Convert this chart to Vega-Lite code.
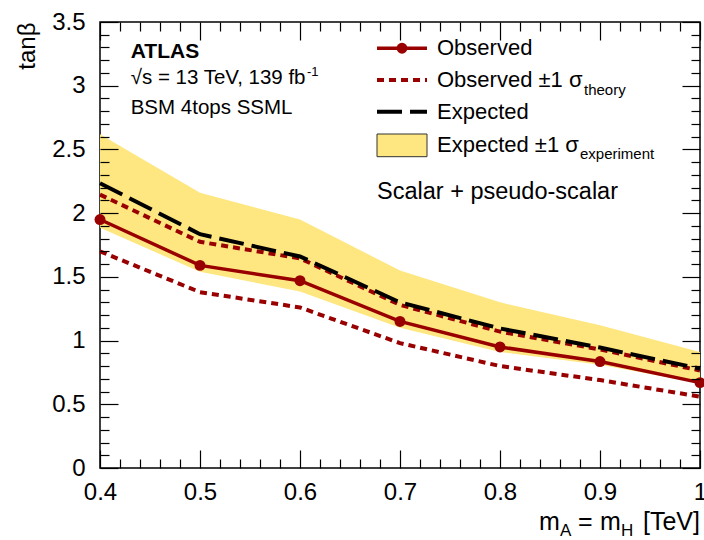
{
  "$schema": "https://vega.github.io/schema/vega-lite/v6.json",
  "width": 600,
  "height": 446,
  "autosize": {"type": "none"},
  "padding": {"left": 100, "top": 22, "right": 4, "bottom": 72},
  "background": "white",
  "config": {
    "view": {"stroke": "black", "strokeWidth": 1.5},
    "font": "Liberation Sans",
    "axis": {"grid": false, "domain": false, "labelFont": "Liberation Sans", "titleFont": "Liberation Sans", "labelColor": "black", "titleColor": "black", "tickColor": "black", "tickWidth": 1.2},
    "text": {"font": "Liberation Sans", "fontSize": 22, "align": "left", "baseline": "middle", "color": "black"}
  },
  "data": {"values": [
    {"m": 0.4, "obs": 1.95, "obs_up": 2.145, "obs_dn": 1.70, "exp": 2.235, "band_lo": 1.885, "band_hi": 2.62},
    {"m": 0.5, "obs": 1.59, "obs_up": 1.775, "obs_dn": 1.38, "exp": 1.835, "band_lo": 1.54, "band_hi": 2.16},
    {"m": 0.6, "obs": 1.47, "obs_up": 1.645, "obs_dn": 1.26, "exp": 1.66, "band_lo": 1.385, "band_hi": 1.95},
    {"m": 0.7, "obs": 1.15, "obs_up": 1.28, "obs_dn": 0.98, "exp": 1.30, "band_lo": 1.10, "band_hi": 1.55},
    {"m": 0.8, "obs": 0.95, "obs_up": 1.07, "obs_dn": 0.80, "exp": 1.095, "band_lo": 0.91, "band_hi": 1.30},
    {"m": 0.9, "obs": 0.835, "obs_up": 0.93, "obs_dn": 0.69, "exp": 0.945, "band_lo": 0.81, "band_hi": 1.12},
    {"m": 1.0, "obs": 0.67, "obs_up": 0.765, "obs_dn": 0.56, "exp": 0.78, "band_lo": 0.665, "band_hi": 0.91}
  ]},
  "resolve": {"axis": {"x": "independent", "y": "independent"}},
  "layer": [
    {
      "mark": {"type": "area", "color": "#FEE680", "opacity": 1},
      "encoding": {
        "x": {"field": "m", "type": "quantitative", "scale": {"domain": [0.4, 1.0], "nice": false, "zero": false},
              "axis": {"orient": "bottom", "values": [0.4, 0.5, 0.6, 0.7, 0.8, 0.9, 1.0], "format": "~g", "ticks": false, "labelFontSize": 24, "labelPadding": 12, "labelFlush": false, "title": null}},
        "y": {"field": "band_lo", "type": "quantitative", "scale": {"domain": [0, 3.5], "nice": false, "zero": false},
              "axis": {"orient": "left", "values": [0, 0.5, 1, 1.5, 2, 2.5, 3, 3.5], "format": "~g", "ticks": false, "labelFontSize": 24, "labelPadding": 15, "labelFlush": false, "title": "tanβ", "titleAnchor": "end", "titleFontSize": 24, "titleFontWeight": "normal", "titlePadding": 12}},
        "y2": {"field": "band_hi"}
      }
    },
    {
      "mark": {"type": "line", "color": "#990000", "strokeWidth": 4, "strokeDash": [7, 5]},
      "encoding": {
        "x": {"field": "m", "type": "quantitative", "scale": {"domain": [0.4, 1.0], "nice": false, "zero": false},
              "axis": {"orient": "bottom", "values": [0.4, 0.5, 0.6, 0.7, 0.8, 0.9, 1.0], "labels": false, "offset": -18, "tickSize": 18, "zindex": 1, "title": null}},
        "y": {"field": "obs_dn", "type": "quantitative", "scale": {"domain": [0, 3.5], "nice": false, "zero": false},
              "axis": {"orient": "left", "values": [0, 0.5, 1, 1.5, 2, 2.5, 3, 3.5], "labels": false, "offset": -18, "tickSize": 18, "zindex": 1, "title": null}}
      }
    },
    {
      "mark": {"type": "line", "color": "#990000", "strokeWidth": 4, "strokeDash": [7, 5]},
      "encoding": {
        "x": {"field": "m", "type": "quantitative", "scale": {"domain": [0.4, 1.0], "nice": false, "zero": false},
              "axis": {"orient": "bottom", "values": [0.42, 0.44, 0.46, 0.48, 0.52, 0.54, 0.56, 0.58, 0.62, 0.64, 0.66, 0.68, 0.72, 0.74, 0.76, 0.78, 0.82, 0.84, 0.86, 0.88, 0.92, 0.94, 0.96, 0.98], "labels": false, "offset": -9, "tickSize": 9, "zindex": 1, "title": null}},
        "y": {"field": "obs_up", "type": "quantitative", "scale": {"domain": [0, 3.5], "nice": false, "zero": false},
              "axis": {"orient": "left", "values": [0.1, 0.2, 0.3, 0.4, 0.6, 0.7, 0.8, 0.9, 1.1, 1.2, 1.3, 1.4, 1.6, 1.7, 1.8, 1.9, 2.1, 2.2, 2.3, 2.4, 2.6, 2.7, 2.8, 2.9, 3.1, 3.2, 3.3, 3.4], "labels": false, "offset": -9, "tickSize": 9, "zindex": 1, "title": null}}
      }
    },
    {
      "mark": {"type": "line", "color": "black", "strokeWidth": 4, "strokeDash": [25, 8]},
      "encoding": {
        "x": {"field": "m", "type": "quantitative", "scale": {"domain": [0.4, 1.0], "nice": false, "zero": false},
              "axis": {"orient": "top", "values": [0.4, 0.5, 0.6, 0.7, 0.8, 0.9, 1.0], "labels": false, "offset": -18, "tickSize": 18, "zindex": 1, "title": null}},
        "y": {"field": "exp", "type": "quantitative", "scale": {"domain": [0, 3.5], "nice": false, "zero": false},
              "axis": {"orient": "right", "values": [0, 0.5, 1, 1.5, 2, 2.5, 3, 3.5], "labels": false, "offset": -18, "tickSize": 18, "zindex": 1, "title": null}}
      }
    },
    {
      "mark": {"type": "line", "color": "#990000", "strokeWidth": 3.5},
      "encoding": {
        "x": {"field": "m", "type": "quantitative", "scale": {"domain": [0.4, 1.0], "nice": false, "zero": false},
              "axis": {"orient": "top", "values": [0.42, 0.44, 0.46, 0.48, 0.52, 0.54, 0.56, 0.58, 0.62, 0.64, 0.66, 0.68, 0.72, 0.74, 0.76, 0.78, 0.82, 0.84, 0.86, 0.88, 0.92, 0.94, 0.96, 0.98], "labels": false, "offset": -9, "tickSize": 9, "zindex": 1, "title": null}},
        "y": {"field": "obs", "type": "quantitative", "scale": {"domain": [0, 3.5], "nice": false, "zero": false},
              "axis": {"orient": "right", "values": [0.1, 0.2, 0.3, 0.4, 0.6, 0.7, 0.8, 0.9, 1.1, 1.2, 1.3, 1.4, 1.6, 1.7, 1.8, 1.9, 2.1, 2.2, 2.3, 2.4, 2.6, 2.7, 2.8, 2.9, 3.1, 3.2, 3.3, 3.4], "labels": false, "offset": -9, "tickSize": 9, "zindex": 1, "title": null}}
      }
    },
    {
      "mark": {"type": "point", "shape": "circle", "filled": true, "color": "#990000", "size": 120, "opacity": 1},
      "encoding": {
        "x": {"field": "m", "type": "quantitative", "axis": null},
        "y": {"field": "obs", "type": "quantitative", "axis": null}
      }
    },
    {
      "data": {"values": [{}]},
      "mark": {"type": "text", "text": "ATLAS", "fontWeight": "bold", "fontSize": 21},
      "encoding": {"x": {"datum": 0.4307, "type": "quantitative", "axis": null}, "y": {"datum": 3.267, "type": "quantitative", "axis": null}}
    },
    {
      "data": {"values": [{}]},
      "mark": {"type": "text", "text": "√s = 13 TeV, 139 fb", "fontSize": 20.5},
      "encoding": {"x": {"datum": 0.4307, "type": "quantitative", "axis": null}, "y": {"datum": 3.058, "type": "quantitative", "axis": null}}
    },
    {
      "data": {"values": [{}]},
      "mark": {"type": "text", "text": "-1", "fontSize": 13},
      "encoding": {"x": {"datum": 0.607, "type": "quantitative", "axis": null}, "y": {"datum": 3.11, "type": "quantitative", "axis": null}}
    },
    {
      "data": {"values": [{}]},
      "mark": {"type": "text", "text": "BSM 4tops SSML", "fontSize": 20.5},
      "encoding": {"x": {"datum": 0.4307, "type": "quantitative", "axis": null}, "y": {"datum": 2.827, "type": "quantitative", "axis": null}}
    },
    {
      "data": {"values": [{}]},
      "mark": {"type": "rule", "color": "#990000", "strokeWidth": 3.5},
      "encoding": {"x": {"datum": 0.677, "type": "quantitative", "axis": null}, "x2": {"datum": 0.727}, "y": {"datum": 3.294, "type": "quantitative", "axis": null}}
    },
    {
      "data": {"values": [{}]},
      "mark": {"type": "point", "shape": "circle", "filled": true, "color": "#990000", "size": 120, "opacity": 1},
      "encoding": {"x": {"datum": 0.702, "type": "quantitative", "axis": null}, "y": {"datum": 3.294, "type": "quantitative", "axis": null}}
    },
    {
      "data": {"values": [{}]},
      "mark": {"type": "text", "text": "Observed"},
      "encoding": {"x": {"datum": 0.737, "type": "quantitative", "axis": null}, "y": {"datum": 3.294, "type": "quantitative", "axis": null}}
    },
    {
      "data": {"values": [{}]},
      "mark": {"type": "rule", "color": "#990000", "strokeWidth": 4, "strokeDash": [7, 5]},
      "encoding": {"x": {"datum": 0.677, "type": "quantitative", "axis": null}, "x2": {"datum": 0.727}, "y": {"datum": 3.045, "type": "quantitative", "axis": null}}
    },
    {
      "data": {"values": [{}]},
      "mark": {"type": "text", "text": "Observed ±1 σ"},
      "encoding": {"x": {"datum": 0.737, "type": "quantitative", "axis": null}, "y": {"datum": 3.045, "type": "quantitative", "axis": null}}
    },
    {
      "data": {"values": [{}]},
      "mark": {"type": "text", "text": "theory", "fontSize": 15},
      "encoding": {"x": {"datum": 0.884, "type": "quantitative", "axis": null}, "y": {"datum": 2.966, "type": "quantitative", "axis": null}}
    },
    {
      "data": {"values": [{}]},
      "mark": {"type": "rule", "color": "black", "strokeWidth": 4, "strokeDash": [25, 8]},
      "encoding": {"x": {"datum": 0.677, "type": "quantitative", "axis": null}, "x2": {"datum": 0.727}, "y": {"datum": 2.796, "type": "quantitative", "axis": null}}
    },
    {
      "data": {"values": [{}]},
      "mark": {"type": "text", "text": "Expected"},
      "encoding": {"x": {"datum": 0.737, "type": "quantitative", "axis": null}, "y": {"datum": 2.796, "type": "quantitative", "axis": null}}
    },
    {
      "data": {"values": [{}]},
      "mark": {"type": "rect", "color": "#FEE680", "stroke": "#333333", "strokeWidth": 1},
      "encoding": {"x": {"datum": 0.677, "type": "quantitative", "axis": null}, "x2": {"datum": 0.727}, "y": {"datum": 2.443, "type": "quantitative", "axis": null}, "y2": {"datum": 2.621}}
    },
    {
      "data": {"values": [{}]},
      "mark": {"type": "text", "text": "Expected ±1 σ"},
      "encoding": {"x": {"datum": 0.737, "type": "quantitative", "axis": null}, "y": {"datum": 2.532, "type": "quantitative", "axis": null}}
    },
    {
      "data": {"values": [{}]},
      "mark": {"type": "text", "text": "experiment", "fontSize": 15},
      "encoding": {"x": {"datum": 0.880, "type": "quantitative", "axis": null}, "y": {"datum": 2.464, "type": "quantitative", "axis": null}}
    },
    {
      "data": {"values": [{}]},
      "mark": {"type": "text", "text": "Scalar + pseudo-scalar", "fontSize": 23.5},
      "encoding": {"x": {"datum": 0.677, "type": "quantitative", "axis": null}, "y": {"datum": 2.168, "type": "quantitative", "axis": null}}
    },
    {
      "data": {"values": [{}]},
      "mark": {"type": "text", "text": "m", "fontSize": 25},
      "encoding": {"x": {"datum": 0.839, "type": "quantitative", "axis": null}, "y": {"datum": -0.424, "type": "quantitative", "axis": null}}
    },
    {
      "data": {"values": [{}]},
      "mark": {"type": "text", "text": "A", "fontSize": 17},
      "encoding": {"x": {"datum": 0.860, "type": "quantitative", "axis": null}, "y": {"datum": -0.497, "type": "quantitative", "axis": null}}
    },
    {
      "data": {"values": [{}]},
      "mark": {"type": "text", "text": "=", "fontSize": 25},
      "encoding": {"x": {"datum": 0.878, "type": "quantitative", "axis": null}, "y": {"datum": -0.424, "type": "quantitative", "axis": null}}
    },
    {
      "data": {"values": [{}]},
      "mark": {"type": "text", "text": "m", "fontSize": 25},
      "encoding": {"x": {"datum": 0.900, "type": "quantitative", "axis": null}, "y": {"datum": -0.424, "type": "quantitative", "axis": null}}
    },
    {
      "data": {"values": [{}]},
      "mark": {"type": "text", "text": "H", "fontSize": 17},
      "encoding": {"x": {"datum": 0.921, "type": "quantitative", "axis": null}, "y": {"datum": -0.497, "type": "quantitative", "axis": null}}
    },
    {
      "data": {"values": [{}]},
      "mark": {"type": "text", "text": "[TeV]", "align": "right", "fontSize": 25},
      "encoding": {"x": {"datum": 1.0, "type": "quantitative", "axis": null}, "y": {"datum": -0.424, "type": "quantitative", "axis": null}}
    }
  ]
}
